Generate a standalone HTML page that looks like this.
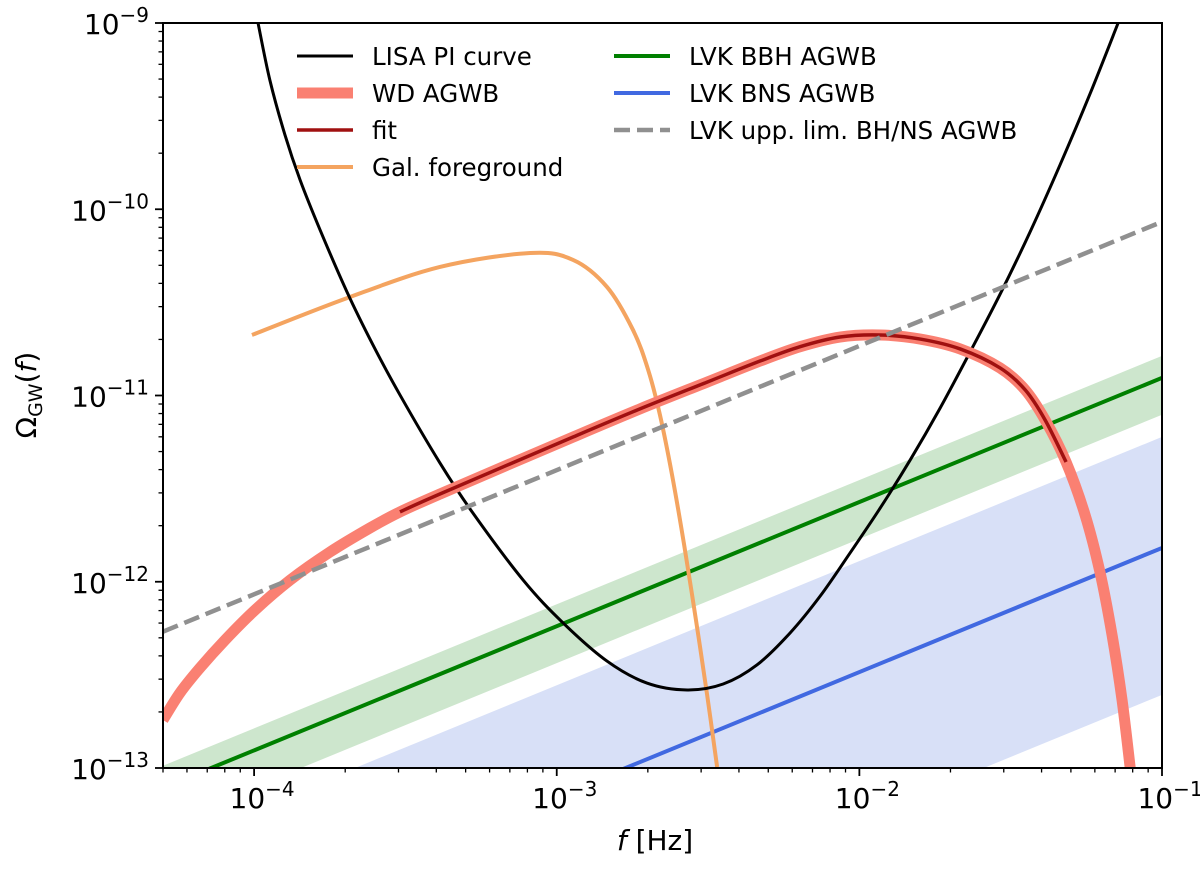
<!DOCTYPE html>
<html><head><meta charset="utf-8"><style>
html,body{margin:0;padding:0;width:1200px;height:875px;background:#fff;overflow:hidden}
svg{display:block}
svg text{font-family:"DejaVu Sans","Liberation Sans",sans-serif;fill:#000}
</style></head><body>
<svg id="chart" width="1200" height="875" xmlns="http://www.w3.org/2000/svg">
<defs><clipPath id="clip"><rect x="163" y="23" width="999" height="745"/></clipPath></defs>
<g id="plot" clip-path="url(#clip)"></g>
<g id="axes"></g>
</svg>
<script>
// data (log10 values)
const lisaLogF=[-3.987,-3.948,-3.898,-3.848,-3.782,-3.693,-3.607,-3.518,-3.386,-3.277,-3.111,-2.979,-2.834,-2.702,-2.569,-2.450,-2.338,-2.229,-2.129,-2.031,-1.931,-1.832,-1.733,-1.634,-1.535,-1.436,-1.337,-1.238,-1.145];
const lisaLogO=[-9.0,-9.306,-9.601,-9.843,-10.111,-10.444,-10.729,-10.997,-11.362,-11.631,-11.991,-12.221,-12.426,-12.544,-12.581,-12.549,-12.446,-12.275,-12.076,-11.846,-11.604,-11.346,-11.067,-10.766,-10.456,-10.122,-9.762,-9.381,-9.0];
const galLogF=[-4.007,-3.693,-3.386,-3.088,-2.946,-2.834,-2.748,-2.698,-2.659,-2.619,-2.579,-2.540,-2.503,-2.470];
const galLogO=[-10.675,-10.477,-10.310,-10.235,-10.272,-10.417,-10.648,-10.862,-11.104,-11.426,-11.802,-12.205,-12.608,-12.995];
const wdLogF=[-4.301,-4.245,-4.179,-4.096,-3.997,-3.881,-3.749,-3.617,-3.518,-3.386,-2.946,-2.725,-2.503,-2.328,-2.196,-2.064,-1.931,-1.799,-1.667,-1.535,-1.452,-1.386,-1.317,-1.254,-1.205,-1.165,-1.132,-1.105];
const wdLogO=[-12.742,-12.597,-12.463,-12.313,-12.152,-11.991,-11.840,-11.711,-11.625,-11.529,-11.223,-11.072,-10.928,-10.815,-10.738,-10.686,-10.675,-10.697,-10.750,-10.852,-10.970,-11.132,-11.357,-11.642,-11.948,-12.286,-12.635,-13.0];
const fitLogF=[-3.518,-3.386,-2.946,-2.725,-2.503,-2.328,-2.196,-2.064,-1.931,-1.799,-1.667,-1.535,-1.452,-1.386,-1.317];
const fitLogO=[-11.625,-11.529,-11.223,-11.072,-10.928,-10.815,-10.738,-10.686,-10.675,-10.697,-10.750,-10.852,-10.970,-11.132,-11.357];
// power laws: log Omega at f=1e-2, band offsets (decades)
const bbh=[-11.572,0.118,-0.198];
const bns=[-12.485,0.596,-0.789];
const upp=[-10.734];
const slope=[2/3];
const xTicks=[-4,-3,-2,-1];
const yTicks=[-9,-10,-11,-12,-13];

const L=163,R=1162,T=23,B=768,X0=Math.log10(5e-5),X1=-1,Y0=-13,Y1=-9;
const X=v=>L+(v-X0)/(X1-X0)*(R-L);
const Y=v=>B-(v-Y0)/(Y1-Y0)*(B-T);
const NS='http://www.w3.org/2000/svg';
const plot=document.getElementById('plot'),axes=document.getElementById('axes');
function mk(tag,attrs,parent){const e=document.createElementNS(NS,tag);for(const k in attrs)e.setAttribute(k,attrs[k]);parent.appendChild(e);return e;}
function smooth(lf,lo){const p=lf.map((v,i)=>[X(v),Y(lo[i])]);let d='M'+p[0][0]+','+p[0][1];
 for(let i=0;i<p.length-1;i++){const a=p[Math.max(0,i-1)],b=p[i],c=p[i+1],e=p[Math.min(p.length-1,i+2)];
 d+=` C${b[0]+(c[0]-a[0])/6},${b[1]+(c[1]-a[1])/6} ${c[0]-(e[0]-b[0])/6},${c[1]-(e[1]-b[1])/6} ${c[0]},${c[1]}`;}return d;}
const pl=(a,f)=>a+slope[0]*(f+2);
function band(p,color){return mk('polygon',{points:`${X(X0)},${Y(pl(p[0]+p[1],X0))} ${X(X1)},${Y(pl(p[0]+p[1],X1))} ${X(X1)},${Y(pl(p[0]+p[2],X1))} ${X(X0)},${Y(pl(p[0]+p[2],X0))}`,fill:color},plot);}
function line(p,color,w,dash){return mk('line',{x1:X(X0),y1:Y(pl(p[0],X0)),x2:X(X1),y2:Y(pl(p[0],X1)),stroke:color,'stroke-width':w,'stroke-dasharray':dash||'none'},plot);}
let e;
e=band(bns,'#d8e0f7');


e=band(bbh,'#cde6cd');


e=line(bbh,'#008000',4);


e=line(bns,'#4169e1',4);


e=mk('path',{d:smooth(galLogF,galLogO),fill:'none',stroke:'#f4a460','stroke-width':4},plot);


e=mk('path',{d:smooth(lisaLogF,lisaLogO),fill:'none',stroke:'#000','stroke-width':3},plot);


e=mk('path',{d:smooth(wdLogF,wdLogO),fill:'none',stroke:'#fa8072','stroke-width':11},plot);


e=mk('path',{d:smooth(fitLogF,fitLogO),fill:'none',stroke:'#a01010','stroke-width':3.5},plot);


e=line(upp,'#909090',4.5,'16,7');


e=mk('rect',{x:L,y:T,width:R-L,height:B-T,fill:'none',stroke:'#000','stroke-width':2},axes);


for(let d=-5;d<=-1;d++)for(let m=1;m<10;m++){const v=d+Math.log10(m);if(v<X0-1e-9||v>X1+1e-9)continue;
 e=mk('line',{x1:X(v),x2:X(v),y1:B,y2:B+(m==1?8:4.5),stroke:'#000','stroke-width':m==1?1.8:1.3},axes);
 
 }
xTicks.forEach(t=>{const g=mk('text',{x:X(t)+8,y:B+40,'font-size':28,'text-anchor':'middle'},axes);
 g.innerHTML=`10<tspan dy="-12" font-size="20">−${-t}</tspan>`;
 
 });
for(let d=-13;d<-9;d++)for(let m=1;m<10;m++){const v=d+Math.log10(m);
 e=mk('line',{x1:L,x2:L-(m==1?8:4.5),y1:Y(v),y2:Y(v),stroke:'#000','stroke-width':m==1?1.8:1.3},axes);
 
 }
e=mk('line',{x1:L,x2:L-8,y1:Y(-9),y2:Y(-9),stroke:'#000','stroke-width':1.8},axes);


yTicks.forEach(t=>{const g=mk('text',{x:L-14,y:Y(t)+11,'font-size':28,'text-anchor':'end'},axes);
 g.innerHTML=`10<tspan dy="-12" font-size="20">−${-t}</tspan>`;
 
 });
e=mk('text',{x:655,y:850,'font-size':28,'text-anchor':'middle'},axes);
e.innerHTML='<tspan font-style="italic">f</tspan> [Hz]';


e=mk('text',{x:0,y:0,'font-size':28,'text-anchor':'middle',transform:'translate(36,395) rotate(-90)'},axes);
e.innerHTML='Ω<tspan font-size="19" dy="6">GW</tspan><tspan dy="-6">(</tspan><tspan font-style="italic">f</tspan>)';


const leg=[[297,56,'#000',3,'','LISA PI curve'],[297,93,'#fa8072',11,'','WD AGWB'],[297,130,'#a01010',3.5,'','fit'],[297,167,'#f4a460',4,'','Gal. foreground'],
[614,56,'#008000',4,'','LVK BBH AGWB'],[614,93,'#4169e1',4,'','LVK BNS AGWB'],[614,130,'#909090',4.5,'16,7','LVK upp. lim. BH/NS AGWB']];
leg.forEach(r=>{const g=mk('g',{},axes);
 
 
 mk('line',{x1:r[0],x2:r[0]+56,y1:r[1],y2:r[1],stroke:r[2],'stroke-width':r[3],'stroke-dasharray':r[4]||'none'},g);
 const t=mk('text',{x:r[0]+75,y:r[1]+9,'font-size':24.5},g);t.textContent=r[5];});
</script>
</body></html>
